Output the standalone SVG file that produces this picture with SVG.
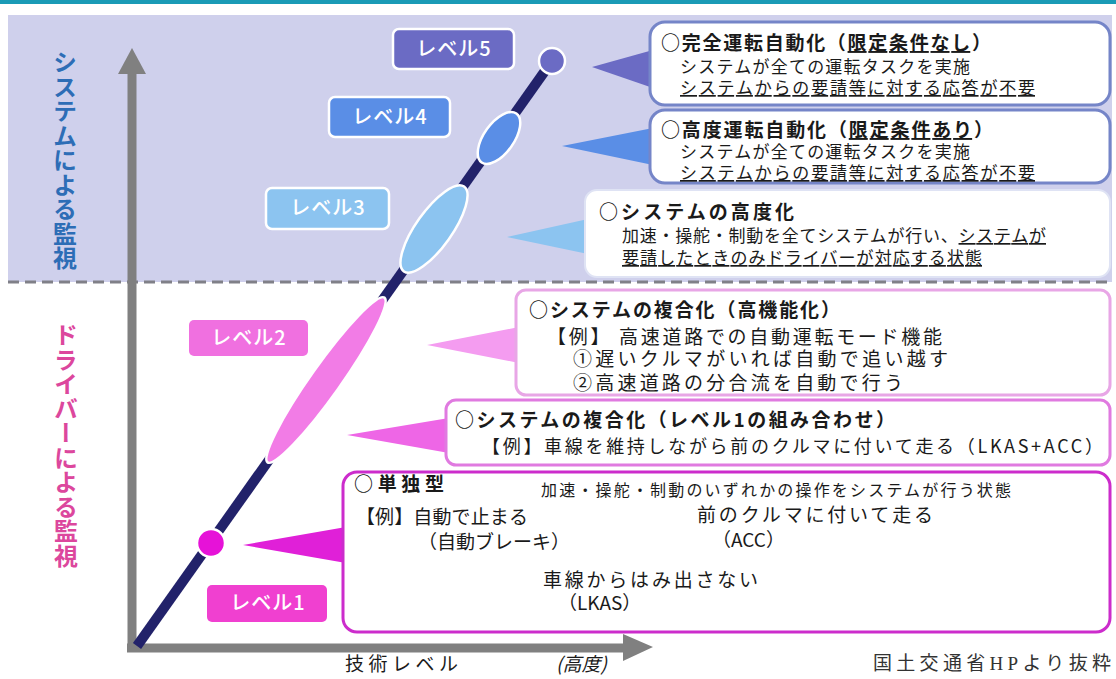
<svg xmlns="http://www.w3.org/2000/svg" width="1116" height="679" viewBox="0 0 1116 679">
<style>
text{font-family:'Noto Sans CJK JP','Noto Sans',sans-serif;fill:#1a1a1a}
.t{font-size:19px;font-weight:bold}
.s{font-size:17px}
.m{font-size:19px}
.u{text-decoration:underline}
.lbl{font-size:20px;fill:#fff;text-anchor:middle;font-weight:500;letter-spacing:1px}
.lbox{stroke:#fff;stroke-width:2.5}
.shape{stroke:#fff;stroke-width:2.5}
.vt{font-size:24px;font-weight:bold;writing-mode:vertical-rl;text-anchor:start}
</style>
<rect width="1116" height="679" fill="#fff"/>
<rect x="0" y="0" width="1116" height="4" fill="#1a9bb6"/>
<rect x="8" y="15" width="1104" height="267" fill="#cfd0ec"/>
<line x1="8" y1="282" x2="1112" y2="282" stroke="#808088" stroke-width="3" stroke-dasharray="11 6"/>

<g id="side-labels">
<text class="vt" x="65" y="50" style="fill:#2d6db6;letter-spacing:0.5px">システムによる監視</text>
<text class="vt" x="66" y="323" style="fill:#dc479d;letter-spacing:0.5px">ドライバーによる監視</text>
</g>

<g id="connectors">
<line x1="132" y1="70" x2="132" y2="652" stroke="#808080" stroke-width="9"/>
<polygon points="132,48 146,74 118,74" fill="#808080"/>
<line x1="127" y1="648" x2="626" y2="648" stroke="#808080" stroke-width="9"/>
<polygon points="653,647 623,634 623,661" fill="#808080"/>
<line x1="137" y1="646" x2="552" y2="61" stroke="#22226a" stroke-width="10"/>
</g>

<g id="level-shapes">
<circle id="l1-dot" class="shape" cx="211" cy="543" r="14" fill="#e612d8"/>
<ellipse id="l2-ell" class="shape" cx="326" cy="380" rx="101" ry="15" fill="#f27ce6" transform="rotate(-54.65 326 380)"/>
<ellipse id="l3-ell" class="shape" cx="434" cy="229" rx="52" ry="18" fill="#8cc4f0" transform="rotate(-54.65 434 229)"/>
<ellipse id="l4-ell" class="shape" cx="499" cy="138" rx="30" ry="15" fill="#5a8ee6" transform="rotate(-54.65 499 138)"/>
<circle id="l5-dot" class="shape" cx="552" cy="61" r="13" fill="#6b6bc4"/>
</g>

<g id="level5-label"><rect class="lbox" x="393" y="29" width="121" height="40" rx="6" fill="#6b6bc4"/><text class="lbl" x="454" y="56">レベル5</text></g>
<g id="level4-label"><rect class="lbox" x="329" y="97" width="121" height="40" rx="6" fill="#5a8ee6"/><text class="lbl" x="390" y="124">レベル4</text></g>
<g id="level3-label"><rect class="lbox" x="266" y="188" width="123" height="41" rx="6" fill="#8cc4f0"/><text class="lbl" x="328" y="215">レベル3</text></g>
<g id="level2-label"><rect x="189" y="320" width="119" height="36" rx="5" fill="#f070e0"/><text class="lbl" x="249" y="345">レベル2</text></g>
<g id="level1-label"><rect x="207" y="585" width="120" height="37" rx="5" fill="#f040d0"/><text class="lbl" x="268" y="610">レベル1</text></g>

<g id="bubble-level5">
<polygon points="592,67 653,50 653,88" fill="#6b6bc4"/>
<rect x="650" y="22" width="460" height="83" rx="15" fill="#fff" stroke="#7585c8" stroke-width="3"/>
<text class="t" x="661" y="50" textLength="330">○完全運転自動化（<tspan class="u">限定条件なし</tspan>）</text>
<text class="s" x="680" y="73" textLength="290">システムが全ての運転タスクを実施</text>
<text class="s u" x="680" y="94" textLength="355">システムからの要請等に対する応答が不要</text>
</g>

<g id="bubble-level4">
<polygon points="562,146 653,128 653,165" fill="#5a8ee6"/>
<rect x="650" y="110" width="460" height="73" rx="15" fill="#fff" stroke="#7585c8" stroke-width="3"/>
<text class="t" x="661" y="137" textLength="332">○高度運転自動化（<tspan class="u">限定条件あり</tspan>）</text>
<text class="s" x="680" y="158" textLength="290">システムが全ての運転タスクを実施</text>
<text class="s u" x="680" y="179" textLength="355">システムからの要請等に対する応答が不要</text>
</g>

<g id="bubble-level3">
<polygon points="507,237 588,219 588,254" fill="#8cc4f0"/>
<rect x="585" y="190" width="525" height="87" rx="12" fill="#fff" stroke="#dfe3f4" stroke-width="2"/>
<text class="t" x="599" y="219" textLength="195">○システムの高度化</text>
<text class="s" x="622" y="242" textLength="424">加速・操舵・制動を全てシステムが行い、<tspan class="u">システムが</tspan></text>
<text class="s u" x="622" y="264" textLength="360">要請したときのみドライバーが対応する状態</text>
</g>

<g id="bubble-level2">
<polygon points="427,345 519,327 519,363" fill="#f49cf0"/>
<rect x="516" y="290" width="594" height="105" rx="10" fill="#fff" stroke="#e8a6e6" stroke-width="3"/>
<text class="t" x="529" y="317" textLength="311">○システムの複合化（高機能化）</text>
<text class="m" x="547" y="344" textLength="395">【例】 高速道路での自動運転モード機能</text>
<text class="m" x="573" y="366" textLength="375">①遅いクルマがいれば自動で追い越す</text>
<text class="m" x="573" y="390" textLength="330">②高速道路の分合流を自動で行う</text>
</g>

<g id="bubble-level1-combo">
<polygon points="347,435 449,418 449,453" fill="#ee66e6"/>
<rect x="446" y="400" width="664" height="65" rx="10" fill="#fff" stroke="#e07ae0" stroke-width="3"/>
<text class="t" x="455" y="427" textLength="440">○システムの複合化（レベル1の組み合わせ）</text>
<text class="m" x="482" y="453" textLength="621" style="font-size:18px">【例】車線を維持しながら前のクルマに付いて走る（LKAS+ACC）</text>
</g>

<g id="bubble-level1">
<polygon points="243,545 346,527 346,563" fill="#e020d8"/>
<rect x="343" y="472" width="767" height="160" rx="14" fill="#fff" stroke="#cc2ccc" stroke-width="3"/>
<text class="t" x="354" y="491" textLength="90">○単独型</text>
<text x="541" y="496" textLength="470" style="font-size:16px">加速・操舵・制動のいずれかの操作をシステムが行う状態</text>
<text class="m" x="356" y="524" textLength="172">【例】自動で止まる</text>
<text class="m" x="418" y="549">（自動ブレーキ）</text>
<text class="m" x="697" y="522" textLength="236">前のクルマに付いて走る</text>
<text class="m" x="712" y="547">（ACC）</text>
<text class="m" x="543" y="587" textLength="215">車線からはみ出さない</text>
<text class="m" x="558" y="610">（LKAS）</text>
</g>

<g id="axis-labels">
<text x="345" y="671" textLength="113" style="font-size:19px">技術レベル</text>
<text x="556" y="671" style="font-size:19px;font-style:italic">(高度)</text>
<text x="873" y="670" textLength="238" style="font-family:'Liberation Serif','Noto Sans CJK JP',serif;font-size:19px;fill:#333">国土交通省HPより抜粋</text>
</g>
</svg>
